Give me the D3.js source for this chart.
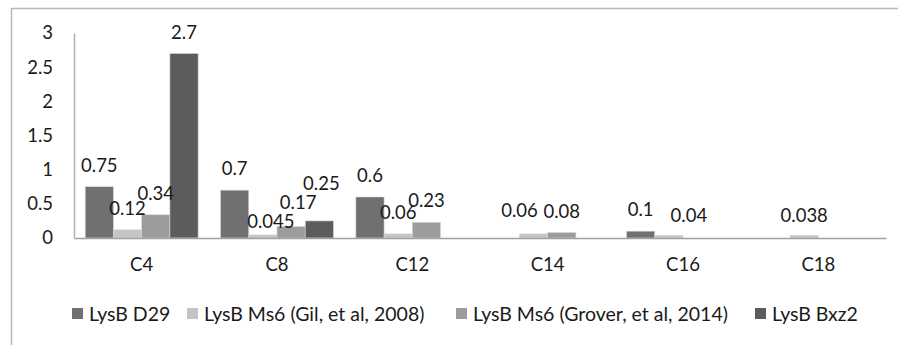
<!DOCTYPE html>
<html>
<head>
<meta charset="utf-8">
<script src="https://cdn.jsdelivr.net/npm/d3@7"></script>
<style>
  html, body { margin: 0; padding: 0; background: #fff; }
  svg { display: block; font-family: Lato, "Open Sans", sans-serif; }
</style>
</head>
<body>
<svg id="chart" width="898" height="345"></svg>
<script>
// Chain-length categories
const categories = ["C4", "C8", "C12", "C14", "C16", "C18"];

// Series names (legend order)
const seriesNames = [
  "LysB D29",
  "LysB Ms6 (Gil, et al, 2008)",
  "LysB Ms6 (Grover, et al, 2014)",
  "LysB Bxz2"
];

// Values per series, one per category (null = no bar / no label)
const lysbD29    = [0.75, 0.7,   0.6,  null, 0.1,  null];
const lysbMs6Gil = [0.12, 0.045, 0.06, 0.06, 0.04, 0.038];
const lysbMs6Gro = [0.34, 0.17,  0.23, 0.08, null, null];
const lysbBxz2   = [2.7,  0.25,  null, null, null, null];

const yTicks = [0, 0.5, 1, 1.5, 2, 2.5, 3];

const seriesValues = [lysbD29, lysbMs6Gil, lysbMs6Gro, lysbBxz2];
const colors = ["#707070", "#c4c4c4", "#9c9c9c", "#5c5c5c"];

// Hand-placed data-label offsets (series index, category index -> [dx, dy])
const labelNudge = {
  "1-1": [8, 8], "2-1": [7, -2], "3-1": [2, -16],
  "1-3": [-14, -2], "1-4": [20, 2], "1-5": [0, 2]
};

const svg = d3.select("#chart");
const plotLeft = 74, plotRight = 886, plotTop = 33, plotBottom = 238;
const textColor = "#1a1a1a";

// Outer chart-area border (left and top edges)
svg.append("path")
  .attr("d", "M11.5,345 V8.5 H898")
  .attr("fill", "none").attr("stroke", "#b8b8b8").attr("stroke-width", 1.5);

const x0 = d3.scaleBand().domain(categories).range([plotLeft, plotRight]);
const inset = x0.bandwidth() * 0.0828;
const x1 = d3.scaleBand().domain(d3.range(seriesNames.length))
  .range([inset, x0.bandwidth() - inset]);
const y = d3.scaleLinear().domain([0, 3]).range([plotBottom, plotTop]);

// Y axis labels
const yAxis = d3.axisLeft(y).tickValues(yTicks).tickSize(0).tickPadding(21)
  .tickFormat(d3.format("~g"));
svg.append("g").attr("transform", `translate(${plotLeft},0)`).call(yAxis)
  .call(g => g.select(".domain").attr("stroke", "#b0b0b0").attr("stroke-width", 1.5))
  .call(g => g.selectAll("text").attr("font-size", 18.5).attr("fill", textColor)
    .attr("font-family", "Lato, 'Open Sans', sans-serif"));

// Bars
const rows = [];
seriesValues.forEach((vals, s) => vals.forEach((v, c) => {
  if (v != null) rows.push({ s, c, v });
}));

svg.append("g").selectAll("rect").data(rows).join("rect")
  .attr("x", d => x0(categories[d.c]) + x1(d.s))
  .attr("y", d => y(d.v))
  .attr("width", x1.bandwidth())
  .attr("height", d => y(0) - y(d.v))
  .attr("fill", d => colors[d.s])
  .attr("stroke", "#d8d8d8").attr("stroke-width", 0.6);

// X axis
const xAxis = d3.axisBottom(x0).tickSize(0).tickPadding(20);
svg.append("g").attr("transform", `translate(0,${plotBottom})`).call(xAxis)
  .call(g => g.select(".domain").attr("stroke", "#a0a0a0").attr("stroke-width", 1.5))
  .call(g => g.selectAll("text").attr("font-size", 18.5).attr("fill", textColor)
    .attr("font-family", "Lato, 'Open Sans', sans-serif"));

// Data labels
svg.append("g").selectAll("text").data(rows).join("text")
  .attr("x", d => x0(categories[d.c]) + x1(d.s) + x1.bandwidth() / 2 + (labelNudge[d.s + "-" + d.c] || [0, 0])[0])
  .attr("y", d => y(d.v) - 15 + (labelNudge[d.s + "-" + d.c] || [0, 0])[1])
  .attr("text-anchor", "middle")
  .attr("font-size", 18.5).attr("fill", textColor)
  .text(d => d3.format("~g")(d.v));

// Legend
const legendPos = [72, 187, 456, 755];
const legend = svg.append("g").attr("transform", "translate(0,314)");
seriesNames.forEach((name, i) => {
  const g = legend.append("g").attr("transform", `translate(${legendPos[i]},0)`);
  g.append("rect").attr("x", 0).attr("y", -6).attr("width", 11).attr("height", 11)
    .attr("fill", colors[i]);
  g.append("text").attr("x", 17).attr("y", 0).attr("dy", "0.35em")
    .attr("font-size", 19.5).attr("fill", textColor).text(name);
});
</script>
</body>
</html>
